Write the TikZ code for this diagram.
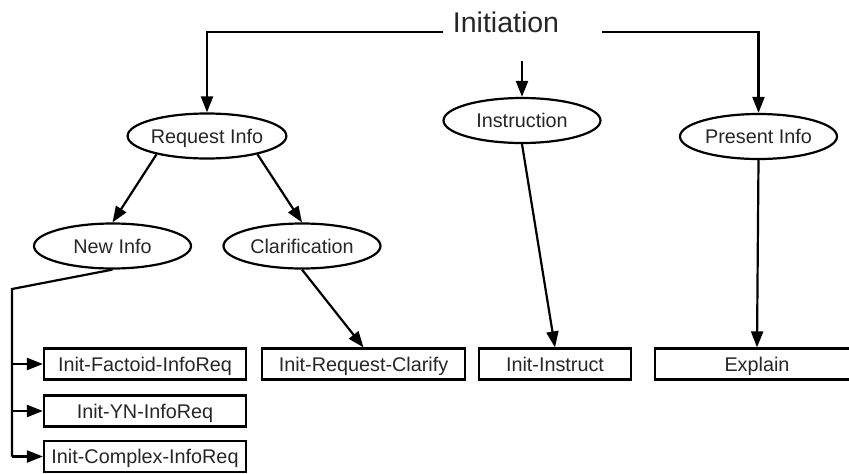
\documentclass[tikz,border=0pt]{standalone}
\usepackage{fontspec}
\setmainfont{Liberation Sans}
\usetikzlibrary{arrows.meta,shapes.geometric}
\definecolor{txt}{HTML}{262626}
\begin{document}
\begin{tikzpicture}[x=1pt,y=-1pt,
  line width=2.2pt,
  lbl/.style={text=txt,font=\fontsize{19.8}{22}\selectfont,inner sep=0pt,
    text height=14.8pt,text depth=0pt},
  cat/.style={lbl,draw,ellipse,minimum width=157,minimum height=45},
  leaf/.style={lbl,draw,rectangle,minimum height=31},
  arr/.style={-{Triangle[length=16pt,width=12pt]}}]
\useasboundingbox (0,0) rectangle (849,474);

% top label and its branch points
\node[text=txt,font=\fontsize{28.5}{32}\selectfont,inner sep=0pt] (init) at (506,22) {Initiation};
\coordinate (initL) at (443,32);
\coordinate (initR) at (602,32);
\coordinate (initM) at (522,61);

% second level
\node[cat] (ri) at (207,136) {Request Info};
\node[cat] (ins) at (522,120.5) {Instruction};
\node[cat] (pi) at (758.5,136.5) {Present Info};

% third level
\node[cat] (ni) at (112.5,246) {New Info};
\node[cat] (cl) at (302,246) {Clarification};

% leaves
\node[leaf,minimum width=202] (fac) at (145,364) {Init-Factoid-InfoReq};
\node[leaf,minimum width=202] (yn) at (145,411) {Init-YN-InfoReq};
\node[leaf,minimum width=202] (cx) at (145,456.5) {Init-Complex-InfoReq};
\node[leaf,minimum width=203] (rc) at (363.5,364) {Init-Request-Clarify};
\node[leaf,minimum width=152] (ii) at (555,364) {Init-Instruct};
\node[leaf,minimum width=204] (ex) at (757,364) {Explain};

% connectors from the top label
\draw[arr] (initL) -| (ri.north);
\draw[arr] (initR) -| (pi.north);
\draw[arr] (initM) -- (ins.north);

% request info split
\draw[arr] (ri.200) -- (ni.north);
\draw[arr] (ri.-20) -- (cl.north);

% down to the leaves
\draw[arr] (cl.south) -- (rc.north);
\draw[arr] (ins.south) -- (ii.north);
\draw[arr] (pi.south) -- (ex.north);

% new info bus
\coordinate (bus) at (12,289);
\draw (ni.south) -- (bus) -- (bus |- cx.west);
\draw[arr] (bus |- fac.west) -- (fac.west);
\draw[arr] (bus |- yn.west) -- (yn.west);
\draw[arr] (bus |- cx.west) -- (cx.west);
\end{tikzpicture}
\end{document}
